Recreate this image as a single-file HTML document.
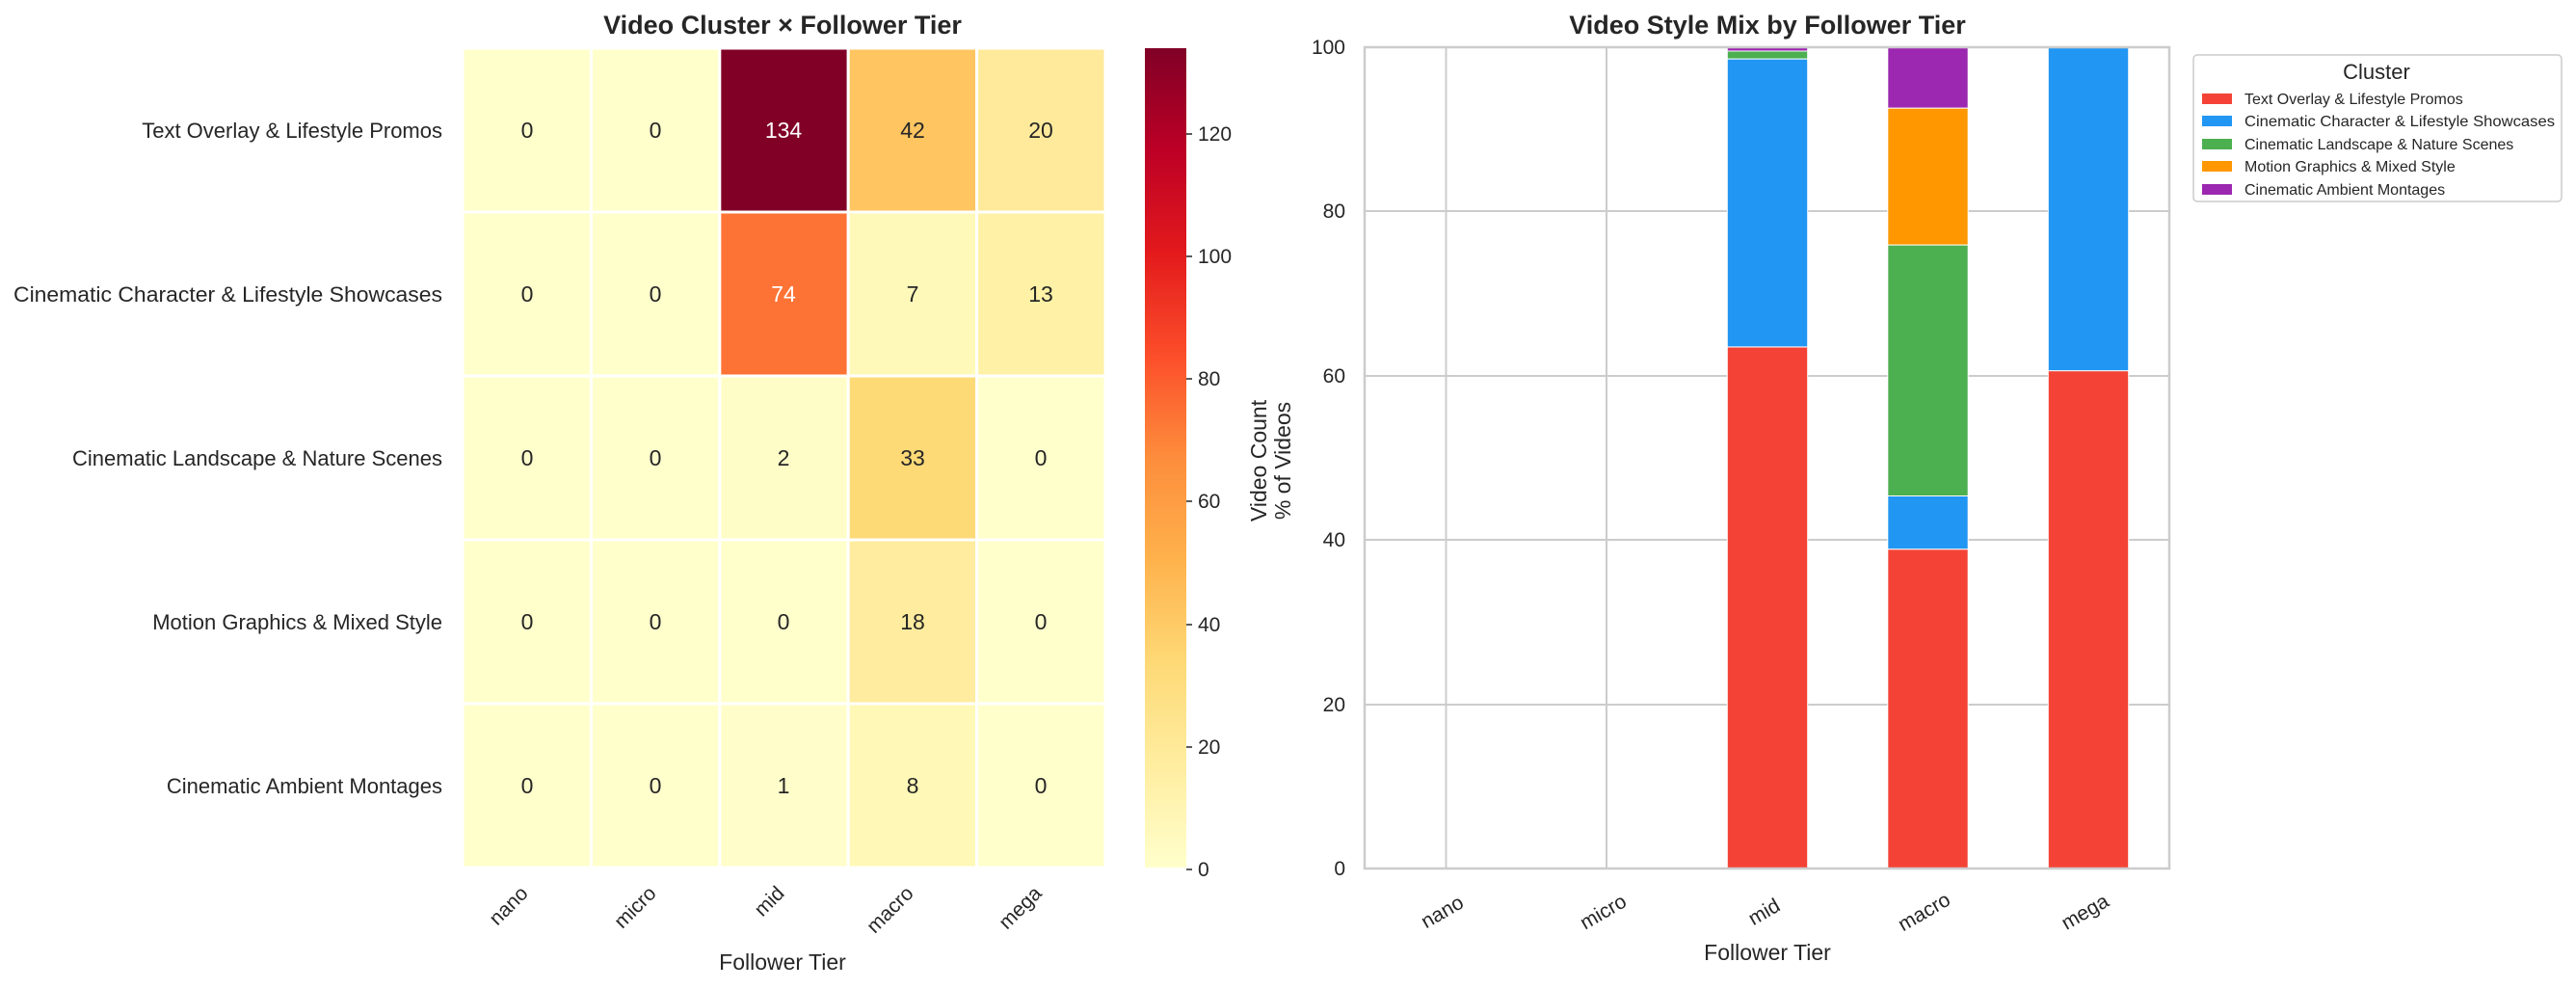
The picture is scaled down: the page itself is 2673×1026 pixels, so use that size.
<!DOCTYPE html>
<html><head><meta charset="utf-8"><style>
html,body{margin:0;padding:0;background:#fff;}
svg{display:block;font-family:"Liberation Sans",sans-serif;}
</style></head><body>
<svg width="2673" height="1026" viewBox="0 0 2673 1026" xmlns="http://www.w3.org/2000/svg">
<defs>
<linearGradient id="cb" x1="0" y1="1" x2="0" y2="0">
<stop offset="0" stop-color="#ffffcc"/><stop offset="0.125" stop-color="#ffeda0"/><stop offset="0.25" stop-color="#fed976"/><stop offset="0.375" stop-color="#feb24c"/><stop offset="0.5" stop-color="#fd8d3c"/><stop offset="0.625" stop-color="#fc4e2a"/><stop offset="0.75" stop-color="#e31a1c"/><stop offset="0.875" stop-color="#bd0026"/><stop offset="1" stop-color="#800026"/>
</linearGradient>
</defs>
<text x="812" y="35" font-size="27" font-weight="bold" text-anchor="middle" fill="#262626">Video Cluster × Follower Tier</text>
<g stroke="#fff" stroke-width="3">
<rect x="480" y="50" width="133.4" height="170" fill="#ffffcc"/><rect x="613.4" y="50" width="133.4" height="170" fill="#ffffcc"/><rect x="746.8" y="50" width="133.4" height="170" fill="#800026"/><rect x="880.2" y="50" width="133.4" height="170" fill="#fec561"/><rect x="1013.6" y="50" width="133.4" height="170" fill="#ffea9b"/>
<rect x="480" y="220" width="133.4" height="170" fill="#ffffcc"/><rect x="613.4" y="220" width="133.4" height="170" fill="#ffffcc"/><rect x="746.8" y="220" width="133.4" height="170" fill="#fd7335"/><rect x="880.2" y="220" width="133.4" height="170" fill="#fff9b9"/><rect x="1013.6" y="220" width="133.4" height="170" fill="#fff1a6"/>
<rect x="480" y="390" width="133.4" height="170" fill="#ffffcc"/><rect x="613.4" y="390" width="133.4" height="170" fill="#ffffcc"/><rect x="746.8" y="390" width="133.4" height="170" fill="#fffdc7"/><rect x="880.2" y="390" width="133.4" height="170" fill="#feda77"/><rect x="1013.6" y="390" width="133.4" height="170" fill="#ffffcc"/>
<rect x="480" y="560" width="133.4" height="170" fill="#ffffcc"/><rect x="613.4" y="560" width="133.4" height="170" fill="#ffffcc"/><rect x="746.8" y="560" width="133.4" height="170" fill="#ffffcc"/><rect x="880.2" y="560" width="133.4" height="170" fill="#ffec9e"/><rect x="1013.6" y="560" width="133.4" height="170" fill="#ffffcc"/>
<rect x="480" y="730" width="133.4" height="170" fill="#ffffcc"/><rect x="613.4" y="730" width="133.4" height="170" fill="#ffffcc"/><rect x="746.8" y="730" width="133.4" height="170" fill="#fffeca"/><rect x="880.2" y="730" width="133.4" height="170" fill="#fff8b7"/><rect x="1013.6" y="730" width="133.4" height="170" fill="#ffffcc"/>
</g>
<g font-size="23" text-anchor="middle" fill="#262626">
<text x="547" y="143">0</text><text x="680" y="143">0</text><text x="813" y="143" fill="#fff">134</text><text x="947" y="143">42</text><text x="1080" y="143">20</text>
<text x="547" y="313">0</text><text x="680" y="313">0</text><text x="813" y="313" fill="#fff">74</text><text x="947" y="313">7</text><text x="1080" y="313">13</text>
<text x="547" y="483">0</text><text x="680" y="483">0</text><text x="813" y="483">2</text><text x="947" y="483">33</text><text x="1080" y="483">0</text>
<text x="547" y="653">0</text><text x="680" y="653">0</text><text x="813" y="653">0</text><text x="947" y="653">18</text><text x="1080" y="653">0</text>
<text x="547" y="823">0</text><text x="680" y="823">0</text><text x="813" y="823">1</text><text x="947" y="823">8</text><text x="1080" y="823">0</text>
</g>
<g font-size="22" text-anchor="end" fill="#262626" textLength="">
<text x="459" y="143">Text Overlay &amp; Lifestyle Promos</text>
<text x="459" y="313" textLength="445" lengthAdjust="spacingAndGlyphs">Cinematic Character &amp; Lifestyle Showcases</text>
<text x="459" y="483">Cinematic Landscape &amp; Nature Scenes</text>
<text x="459" y="653">Motion Graphics &amp; Mixed Style</text>
<text x="459" y="823">Cinematic Ambient Montages</text>
</g>
<g font-size="21" text-anchor="end" fill="#262626">
<text transform="translate(549,928) rotate(-45)">nano</text>
<text transform="translate(682,928) rotate(-45)">micro</text>
<text transform="translate(815,928) rotate(-45)">mid</text>
<text transform="translate(949,928) rotate(-45)">macro</text>
<text transform="translate(1082,928) rotate(-45)">mega</text>
</g>
<text x="812" y="1006" font-size="23" text-anchor="middle" fill="#262626">Follower Tier</text>
<rect x="1188" y="50" width="43" height="850" fill="url(#cb)"/>
<g stroke="#262626" stroke-width="1.5">
<line x1="1231" y1="902" x2="1237" y2="902"/><line x1="1231" y1="775" x2="1237" y2="775"/><line x1="1231" y1="648" x2="1237" y2="648"/><line x1="1231" y1="520" x2="1237" y2="520"/><line x1="1231" y1="393" x2="1237" y2="393"/><line x1="1231" y1="266" x2="1237" y2="266"/><line x1="1231" y1="139" x2="1237" y2="139"/>
</g>
<g font-size="21" fill="#262626">
<text x="1243" y="909">0</text><text x="1243" y="782">20</text><text x="1243" y="655">40</text><text x="1243" y="527">60</text><text x="1243" y="400">80</text><text x="1243" y="273">100</text><text x="1243" y="146">120</text>
</g>
<text transform="translate(1314,478) rotate(-90)" font-size="23" text-anchor="middle" fill="#262626">Video Count</text>
<text transform="translate(1339,478) rotate(-90)" font-size="23" text-anchor="middle" fill="#262626">% of Videos</text>
<text x="1834" y="35" font-size="27" font-weight="bold" text-anchor="middle" fill="#262626">Video Style Mix by Follower Tier</text>
<g stroke="#cccccc" stroke-width="2">
<line x1="1416" y1="731" x2="2251" y2="731"/><line x1="1416" y1="560" x2="2251" y2="560"/><line x1="1416" y1="390" x2="2251" y2="390"/><line x1="1416" y1="219" x2="2251" y2="219"/>
<line x1="1500.5" y1="49" x2="1500.5" y2="901"/><line x1="1667" y1="49" x2="1667" y2="901"/><line x1="1834" y1="49" x2="1834" y2="901"/><line x1="2000.5" y1="49" x2="2000.5" y2="901"/><line x1="2167" y1="49" x2="2167" y2="901"/>
</g>
<g stroke="#fff" stroke-width="1">
<rect x="1792.3" y="359.9" width="83.4" height="541.1" fill="#f44336"/>
<rect x="1792.3" y="61.1" width="83.4" height="298.8" fill="#2196f3"/>
<rect x="1792.3" y="53" width="83.4" height="8.1" fill="#4caf50"/>
<rect x="1792.3" y="49" width="83.4" height="4" fill="#9c27b0"/>
<rect x="1958.8" y="569.7" width="83.4" height="331.3" fill="#f44336"/>
<rect x="1958.8" y="514.5" width="83.4" height="55.2" fill="#2196f3"/>
<rect x="1958.8" y="254.1" width="83.4" height="260.4" fill="#4caf50"/>
<rect x="1958.8" y="112.1" width="83.4" height="142" fill="#ff9800"/>
<rect x="1958.8" y="49" width="83.4" height="63.1" fill="#9c27b0"/>
<rect x="2125.3" y="384.6" width="83.4" height="516.4" fill="#f44336"/>
<rect x="2125.3" y="49" width="83.4" height="335.6" fill="#2196f3"/>
</g>
<rect x="1416" y="49" width="835" height="852" fill="none" stroke="#cccccc" stroke-width="2.5"/>
<g font-size="21" text-anchor="end" fill="#262626">
<text x="1396" y="908">0</text><text x="1396" y="738">20</text><text x="1396" y="567">40</text><text x="1396" y="397">60</text><text x="1396" y="226">80</text><text x="1396" y="56">100</text>
</g>
<g font-size="21" text-anchor="middle" fill="#262626">
<text transform="translate(1500,952) rotate(-30)">nano</text>
<text transform="translate(1667,952) rotate(-30)">micro</text>
<text transform="translate(1834,952) rotate(-30)">mid</text>
<text transform="translate(2000,952) rotate(-30)">macro</text>
<text transform="translate(2167,952) rotate(-30)">mega</text>
</g>
<text x="1834" y="996" font-size="23" text-anchor="middle" fill="#262626">Follower Tier</text>
<rect x="2276" y="57" width="382" height="152" rx="4" fill="#fff" stroke="#cccccc" stroke-width="1.5"/>
<text x="2466" y="82" font-size="22" text-anchor="middle" fill="#262626">Cluster</text>
<rect x="2285" y="97" width="31" height="11" fill="#f44336"/>
<rect x="2285" y="120" width="31" height="11" fill="#2196f3"/>
<rect x="2285" y="144" width="31" height="11" fill="#4caf50"/>
<rect x="2285" y="167" width="31" height="11" fill="#ff9800"/>
<rect x="2285" y="191" width="31" height="11" fill="#9c27b0"/>
<g font-size="16" fill="#262626">
<text x="2329" y="108">Text Overlay &amp; Lifestyle Promos</text>
<text x="2329" y="131" textLength="322" lengthAdjust="spacingAndGlyphs">Cinematic Character &amp; Lifestyle Showcases</text>
<text x="2329" y="155">Cinematic Landscape &amp; Nature Scenes</text>
<text x="2329" y="178">Motion Graphics &amp; Mixed Style</text>
<text x="2329" y="202">Cinematic Ambient Montages</text>
</g>
</svg>
</body></html>
